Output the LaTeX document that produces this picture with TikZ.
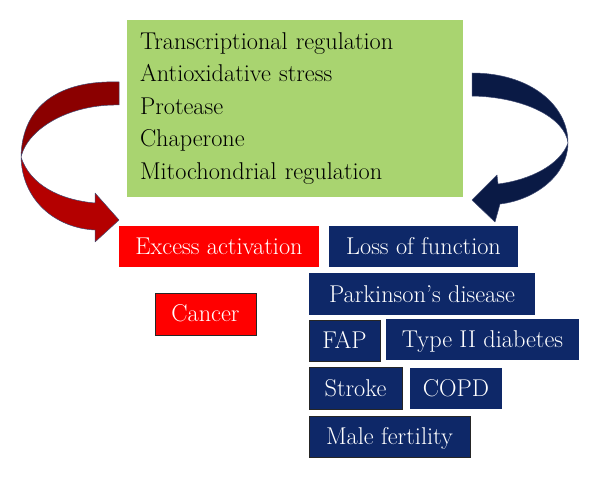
\documentclass[tikz,border=0pt]{standalone}
\usepackage{fontspec}
\usepackage{tikz}
\usepackage{xcolor}
\definecolor{leafgreen}{HTML}{A9D470}
\definecolor{boxnavy}{HTML}{0E2868}
\definecolor{arrownavy}{HTML}{0A1A45}
\definecolor{boxred}{HTML}{FF0000}
\definecolor{ribbondark}{HTML}{8B0000}
\definecolor{ribbonlight}{HTML}{B40000}
\definecolor{ribbonline}{HTML}{3F4A72}

\begin{document}
\begin{tikzpicture}[x=1pt,y=-1pt]
					\tikzstyle{label} = [font=\fontsize{24.3}{32.5}\selectfont,text height=18pt,text depth=2pt,inner sep=0pt]
					\tikzstyle{redbox} = [label,fill=boxred,text=white]
					\tikzstyle{navybox} = [label,fill=boxnavy,text=white]
					\tikzstyle{edged} = [draw=black!85,line width=0.8pt]
					\tikzstyle{ribbon} = [draw=ribbonline,line width=0.5pt,line join=round]
					\useasboundingbox (0,0) rectangle (600,478);
					\node[fill=leafgreen,font=\fontsize{24.3}{32.5}\selectfont,text width=310pt,inner xsep=13pt,minimum height=177pt,align=left] (funcs) at (295,108.5) {Transcriptional regulation\\Antioxidative stress\\Protease\\Chaperone\\Mitochondrial regulation};
					\node[redbox,minimum width=200pt,minimum height=41pt] (excess) at (219,246.5) {Excess activation};
					\node[navybox,minimum width=189pt,minimum height=41pt] (loss) at (423.5,246.5) {Loss of function};
					\node[navybox,minimum width=226pt,minimum height=42pt] (parkinson) at (422,294.5) {Parkinson's disease};
					\node[redbox,edged,minimum width=101pt,minimum height=42pt] (cancer) at (205.5,314) {Cancer};
					\node[navybox,edged,minimum width=71pt,minimum height=41pt] (fap) at (344.5,340.5) {FAP};
					\node[navybox,minimum width=193pt,minimum height=41pt] (diabetes) at (482.5,340) {Type II diabetes};
					\node[navybox,edged,minimum width=93pt,minimum height=42pt] (stroke) at (355.5,388) {Stroke};
					\node[navybox,minimum width=92pt,minimum height=41pt] (copd) at (456,388.5) {COPD};
					\node[navybox,edged,minimum width=161pt,minimum height=41pt] (fertility) at (389.5,436.5) {Male fertility};
					\filldraw[ribbon,fill=ribbondark] (119,82) .. controls (60,80) and (22,105) .. (21,157) .. controls (28,128) and (70,104) .. (119,105) -- cycle;
					\filldraw[ribbon,fill=ribbonlight] (21,157) .. controls (22,200) and (55,228) .. (95,230) -- (95,242) -- (119,220) -- (95,193) -- (95,203) .. controls (60,200) and (30,185) .. (21,157) -- cycle;
					\filldraw[ribbon,fill=arrownavy] (472,73) .. controls (530,73) and (568,105) .. (568,143) .. controls (565,118) and (525,97) .. (472,96) -- cycle;
					\filldraw[ribbon,fill=arrownavy] (568,143) .. controls (568,175) and (535,200) .. (500,204) -- (495,222) -- (472,200) -- (497,175) -- (498,184) .. controls (530,180) and (560,165) .. (568,143) -- cycle;
					\end{tikzpicture}
\end{document}
